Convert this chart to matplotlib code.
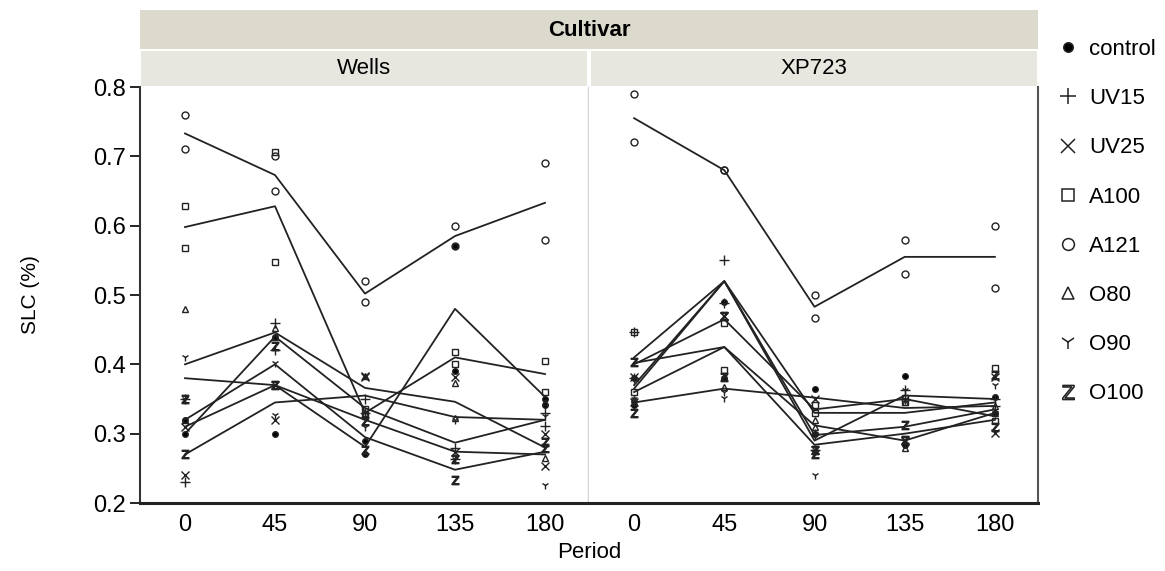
import numpy as np
import matplotlib.pyplot as plt
from matplotlib.lines import Line2D
from matplotlib.patches import Rectangle

plt.rcParams['font.family'] = ['Liberation Sans', 'DejaVu Sans']

periods = [0, 45, 90, 135, 180]
treatments = ['control', 'UV15', 'UV25', 'A100', 'A121', 'O80', 'O90', 'O100']
cultivars = ['Wells', 'XP723']

# mean lines (rows follow treatments)
wells_mean = [
    [0.31, 0.37, 0.281, 0.48, 0.353],
    [0.30, 0.44, 0.337, 0.287, 0.32],
    [0.27, 0.345, 0.355, 0.324, 0.32],
    [0.598, 0.628, 0.33, 0.41, 0.386],
    [0.733, 0.673, 0.502, 0.585, 0.633],
    [0.40, 0.446, 0.366, 0.346, 0.28],
    [0.38, 0.37, 0.32, 0.274, 0.27],
    [0.32, 0.40, 0.295, 0.248, 0.274],
]
xp_mean = [
    [0.37, 0.52, 0.33, 0.33, 0.345],
    [0.41, 0.52, 0.29, 0.355, 0.35],
    [0.365, 0.52, 0.298, 0.31, 0.335],
    [0.40, 0.465, 0.335, 0.35, 0.325],
    [0.755, 0.68, 0.483, 0.555, 0.555],
    [0.36, 0.425, 0.312, 0.29, 0.33],
    [0.345, 0.365, 0.352, 0.337, 0.34],
    [0.402, 0.425, 0.284, 0.30, 0.32],
]

# replicate observations
wells_rep1 = [
    [0.32, 0.44, 0.29, 0.57, 0.35],
    [0.35, 0.46, 0.35, 0.28, 0.33],
    [0.31, 0.37, 0.383, 0.382, 0.30],
    [0.628, 0.706, 0.336, 0.418, 0.405],
    [0.76, 0.70, 0.52, 0.60, 0.69],
    [0.48, 0.452, 0.383, 0.373, 0.345],
    [0.41, 0.402, 0.33, 0.32, 0.326],
    [0.35, 0.426, 0.318, 0.263, 0.288],
]
wells_rep2 = [
    [0.30, 0.30, 0.27, 0.39, 0.342],
    [0.23, 0.42, 0.33, 0.263, 0.311],
    [0.24, 0.32, 0.382, 0.274, 0.254],
    [0.568, 0.548, 0.326, 0.40, 0.36],
    [0.71, 0.65, 0.49, 0.57, 0.58],
    [0.32, 0.44, 0.33, 0.322, 0.265],
    [0.35, 0.327, 0.31, 0.263, 0.226],
    [0.27, 0.37, 0.276, 0.233, 0.28],
]
xp_rep1 = [
    [0.38, 0.49, 0.364, 0.383, 0.353],
    [0.446, 0.551, 0.30, 0.363, 0.35],
    [0.382, 0.469, 0.35, 0.291, 0.382],
    [0.446, 0.46, 0.342, 0.352, 0.395],
    [0.79, 0.68, 0.50, 0.58, 0.60],
    [0.35, 0.368, 0.31, 0.345, 0.34],
    [0.35, 0.352, 0.24, 0.363, 0.37],
    [0.404, 0.469, 0.277, 0.313, 0.385],
]
xp_rep2 = [
    [0.342, 0.38, 0.30, 0.284, 0.33],
    [0.38, 0.489, 0.277, 0.35, 0.34],
    [0.345, 0.469, 0.277, 0.29, 0.301],
    [0.36, 0.392, 0.33, 0.345, 0.318],
    [0.72, 0.68, 0.467, 0.53, 0.51],
    [0.345, 0.382, 0.32, 0.28, 0.33],
    [0.345, 0.36, 0.30, 0.35, 0.33],
    [0.33, 0.382, 0.27, 0.291, 0.31],
]

marker_of = {
    'control': ('o', 'k', 4),
    'UV15': ('+', 'none', 7),
    'UV25': ('x', 'none', 6),
    'A100': ('s', 'none', 5),
    'A121': ('o', 'none', 5),
    'O80': ('^', 'none', 5),
    'O90': ('1', 'none', 6),
    'O100': (r'$\mathrm{Z}$', 'none', 6),
}

W, H = 1165, 571
fig = plt.figure(figsize=(W / 100, H / 100), dpi=100)


def px_rect(x0, y0, x1, y1):
    return [x0 / W, 1 - y1 / H, (x1 - x0) / W, (y1 - y0) / H]


ax_l = fig.add_axes(px_rect(140, 87, 588, 503))
ax_r = fig.add_axes(px_rect(589, 87, 1038, 503))
panels = [(ax_l, wells_mean, wells_rep1, wells_rep2),
          (ax_r, xp_mean, xp_rep1, xp_rep2)]

for ax, means, r1, r2 in panels:
    for i, t in enumerate(treatments):
        ax.plot(periods, means[i], color='#222222', lw=1.3, zorder=2)
        m, fc, ms = marker_of[t]
        for reps in (r1, r2):
            ax.plot(periods, reps[i], ls='none', marker=m, mfc=fc, mec='#222222',
                    color='#222222', ms=ms, mew=1.0, zorder=3)
    ax.set_xlim(-22.5, 201.5)
    ax.set_ylim(0.2, 0.8)
    ax.set_xticks(periods)
    ax.set_xticklabels([str(p) for p in periods])
    ax.set_yticks([0.2, 0.3, 0.4, 0.5, 0.6, 0.7, 0.8])
    ax.tick_params(axis='x', length=0, labelsize=17, pad=8)
    ax.tick_params(axis='y', length=7, width=1.2, labelsize=17, pad=3)
    ax.spines['top'].set_visible(False)
    ax.spines['bottom'].set_linewidth(2.2)
    ax.spines['bottom'].set_color('#222222')

ax_l.spines['left'].set_color('#333333')
ax_l.spines['left'].set_linewidth(1.5)
ax_l.spines['right'].set_color('#d4d4d4')
ax_l.spines['right'].set_linewidth(1.0)
ax_r.spines['left'].set_visible(False)
ax_r.spines['right'].set_color('#555555')
ax_r.spines['right'].set_linewidth(1.5)
ax_r.tick_params(axis='y', length=0, labelleft=False)

# strips
fig.add_artist(Rectangle((140 / W, 1 - 49 / H), 898 / W, 39 / H, transform=fig.transFigure,
                         facecolor='#dcdacc', edgecolor='none'))
fig.text(589 / W, 1 - 30 / H, 'Cultivar', ha='center', va='center', fontsize=16, fontweight='bold')
for (x0, x1), name in zip([(141, 587), (591, 1037)], cultivars):
    fig.add_artist(Rectangle((x0 / W, 1 - 86 / H), (x1 - x0) / W, 35 / H, transform=fig.transFigure,
                             facecolor='#e8e7df', edgecolor='none'))
    fig.text((x0 + x1) / 2 / W, 1 - 69 / H, name, ha='center', va='center', fontsize=16)

fig.text(30 / W, 1 - 295 / H, 'SLC (%)', rotation=90, ha='center', va='center', fontsize=15)
fig.text(589 / W, 1 - 553 / H, 'Period', ha='center', va='center', fontsize=16)

handles = []
for t in treatments:
    m, fc, ms = marker_of[t]
    handles.append(Line2D([], [], ls='none', marker=m, mfc=fc, mec='#222222', color='#222222',
                          ms=ms * 1.7, mew=1.1))
fig.legend(handles, treatments, loc='upper left', bbox_to_anchor=(1048 / W, 1 - 30 / H),
           frameon=False, fontsize=16, labelspacing=1.27, handlelength=1.0, handletextpad=0.45,
           borderaxespad=0)

fig.savefig('out.png', dpi=100)
